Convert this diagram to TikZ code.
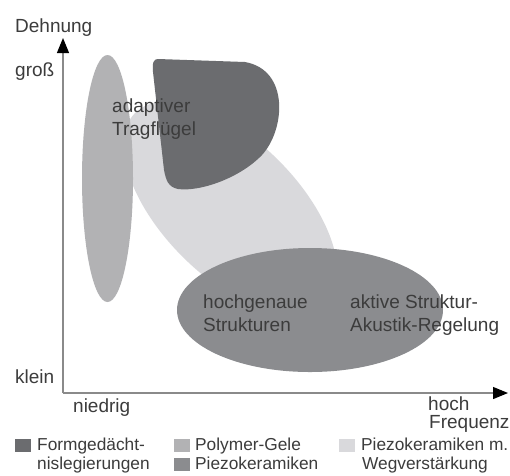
\documentclass[tikz,border=0pt]{standalone}
\usepackage{fontspec}
\setmainfont{Liberation Sans}
\usetikzlibrary{arrows.meta}
\definecolor{cDark}{HTML}{6B6C6F}
\definecolor{cPoly}{HTML}{B2B2B4}
\definecolor{cLight}{HTML}{D9D9DC}
\definecolor{cPiezo}{HTML}{8B8C8F}
\definecolor{cText}{HTML}{3C3C3C}
\definecolor{cAxis}{HTML}{8A8A8A}
\tikzset{
  lbl/.style={anchor=base west, inner sep=0pt, text=cText, font=\fontsize{19}{22}\selectfont},
  leglbl/.style={anchor=base west, inner sep=0pt, text=cText, font=\fontsize{17.3}{20}\selectfont},
  axisline/.style={draw=cAxis, line width=1.2pt, -{Triangle[length=15pt,width=12pt,color=black]}},
  legbox/.style={minimum width=16pt, minimum height=13pt, inner sep=0pt, anchor=north west}
}
\begin{document}
\begin{tikzpicture}[x=1pt,y=-1pt]
\useasboundingbox[fill=white] (0,0) rectangle (510,475);
% regions
\fill[cLight, rotate around={-45:(230.5,208.5)}] (230.5,208.5) ellipse (135 and 68);
\fill[cPoly] (107.5,178.5) ellipse (25.5 and 123.5);
\fill[cDark] (158,59) -- (245,62) .. controls (290,70) and (285,130) .. (262,155)
  .. controls (240,178) and (200,192) .. (178,189)
  .. controls (168,187) and (166,180) .. (164,170)
  -- (153,72) .. controls (152,62) and (154,59) .. (158,59) -- cycle;
\fill[cPiezo] (310,310) ellipse (133 and 62);
% axes
\coordinate (O) at (63,393);
\coordinate (ytip) at (63,38);
\coordinate (xtip) at (508,393);
\draw[axisline] (O) -- (ytip);
\draw[axisline] (O) -- (xtip);
% axis labels
\node[lbl] (dehnung) at (15,32) {Dehnung};
\node[lbl] (gross) at (15,76) {groß};
\node[lbl] (klein) at (15,383) {klein};
\node[lbl] (niedrig) at (73,412) {niedrig};
\node[lbl] (hoch) at (428,410) {hoch};
\node[lbl] (frequenz) at (429,428) {Frequenz};
% region labels
\node[lbl] (adapt1) at (112,112) {adaptiver};
\node[lbl] (adapt2) at (112,135) {Tragflügel};
\node[lbl] (hg1) at (203,308) {hochgenaue};
\node[lbl] (hg2) at (203,331) {Strukturen};
\node[lbl] (ak1) at (350,308) {aktive Struktur-};
\node[lbl] (ak2) at (350,331) {Akustik-Regelung};
% legend
\node[legbox, fill=cDark] (lb1) at (15,439) {};
\node[leglbl] (lt1a) at (37,450) {Formgedächt-};
\node[leglbl] (lt1b) at (37,469) {nislegierungen};
\node[legbox, fill=cPoly] (lb2) at (174,439) {};
\node[leglbl] (lt2) at (195,450) {Polymer-Gele};
\node[legbox, fill=cPiezo] (lb3) at (174,458) {};
\node[leglbl] (lt3) at (195,469) {Piezokeramiken};
\node[legbox, fill=cLight] (lb4) at (339,439) {};
\node[leglbl] (lt4a) at (361,450) {Piezokeramiken m.};
\node[leglbl] (lt4b) at (362,469) {Wegverstärkung};
\end{tikzpicture}
\end{document}
